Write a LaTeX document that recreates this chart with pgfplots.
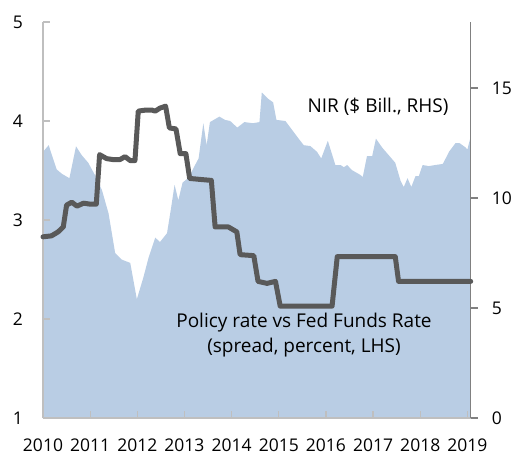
\documentclass[border=0pt]{standalone}
\usepackage{fontspec}
\setmainfont{Open Sans}
\usepackage{pgfplots}
\pgfplotsset{compat=1.18}
\definecolor{areablue}{RGB}{185,205,228}
\definecolor{linegray}{RGB}{89,89,89}
\definecolor{axlight}{RGB}{191,191,191}
\definecolor{axdark}{RGB}{128,128,128}
\begin{document}
\begin{tikzpicture}[x=1pt,y=1pt]
\useasboundingbox (0,0) rectangle (516,456);
\pgfplotsset{
  base/.style={
    scale only axis, width=427.7pt, height=396pt,
    at={(43pt,38pt)}, anchor=south west,
    xmin=2010, xmax=2019.07,
    /pgf/number format/assume math mode=true,
    tick label style={font=\fontsize{17.5}{20}\selectfont, text=black},
    major tick length=7pt,
    clip=false,
  }
}
\begin{axis}[base,
  axis y line*=right, axis x line*=bottom,
  ymin=0, ymax=18, ytick={0,5,10,15},
  xtick={2010,2011,2012,2013,2014,2015,2016,2017,2018,2019},
  xticklabels={2010,2011,2012,2013,2014,2015,2016,2017,2018,2019},
  x axis line style={axlight, line width=1.3pt, -},
  y axis line style={axdark, line width=1.3pt, -},
  x tick style={axlight, line width=1.3pt},
  y tick style={axdark, line width=1.3pt},
  xtick align=inside, ytick align=outside,
  xticklabel style={anchor=north, inner sep=0pt, yshift=-21pt},
  yticklabel style={anchor=west, inner sep=0pt, xshift=14pt},
  axis on top,
]
\addplot[fill=areablue, draw=none] coordinates {
(2010.00,12.1) (2010.12,12.4) (2010.29,11.3) (2010.40,11.1) (2010.56,10.9)
(2010.70,12.35) (2010.82,11.95) (2010.96,11.6) (2011.10,11.05) (2011.25,10.36)
(2011.39,9.3) (2011.53,7.5) (2011.67,7.2) (2011.85,7.05) (2011.99,5.4)
(2012.13,6.4) (2012.24,7.3) (2012.38,8.2) (2012.48,8.0) (2012.63,8.4)
(2012.72,9.6) (2012.79,10.6) (2012.87,9.9) (2012.96,10.7) (2013.10,10.95)
(2013.20,11.4) (2013.30,11.8) (2013.40,13.4) (2013.47,12.4) (2013.54,13.45)
(2013.74,13.7) (2013.86,13.55) (2013.97,13.5) (2014.12,13.2) (2014.27,13.45)
(2014.45,13.4) (2014.59,13.45) (2014.64,14.8) (2014.78,14.5) (2014.88,14.35)
(2014.95,13.55) (2015.14,13.5) (2015.28,13.1) (2015.42,12.7) (2015.53,12.4)
(2015.67,12.36) (2015.81,12.1) (2015.90,11.8) (2016.04,12.6) (2016.20,11.5)
(2016.31,11.5) (2016.38,11.4) (2016.45,11.5) (2016.55,11.27) (2016.73,11.05)
(2016.78,10.95) (2016.87,11.9) (2016.98,11.9) (2017.06,12.7) (2017.19,12.3)
(2017.33,11.95) (2017.47,11.6) (2017.58,10.8) (2017.65,10.5) (2017.73,10.9)
(2017.81,10.5) (2017.90,11.0) (2017.97,11.0) (2018.05,11.5) (2018.18,11.45)
(2018.32,11.5) (2018.48,11.55) (2018.61,12.1) (2018.75,12.5) (2018.83,12.5)
(2018.96,12.3) (2019.00,12.2) (2019.07,12.8)
} \closedcycle;
\end{axis}
\begin{axis}[base,
  axis y line*=left, axis x line=none,
  ymin=1, ymax=5, ytick={1,2,3,4,5},
  y axis line style={axlight, line width=1.3pt, -},
  y tick style={axlight, line width=1.3pt},
  ytick align=inside,
  yticklabel style={anchor=east, inner sep=0pt, xshift=-20pt},
]
\addplot[linegray, line width=5pt, line join=round, line cap=round] coordinates {
(2010.00,2.83) (2010.18,2.84) (2010.32,2.88) (2010.43,2.93) (2010.50,3.15)
(2010.61,3.18) (2010.72,3.14) (2010.86,3.17) (2011.00,3.16) (2011.13,3.16)
(2011.20,3.66) (2011.35,3.62) (2011.49,3.61) (2011.63,3.61) (2011.74,3.64)
(2011.85,3.60) (2011.95,3.60) (2012.02,4.10) (2012.17,4.11) (2012.31,4.11)
(2012.38,4.10) (2012.48,4.13) (2012.60,4.15) (2012.68,3.93) (2012.82,3.92)
(2012.91,3.67) (2013.03,3.67) (2013.11,3.42) (2013.33,3.41) (2013.57,3.40)
(2013.65,2.93) (2013.93,2.93) (2014.11,2.88) (2014.18,2.65) (2014.47,2.64)
(2014.56,2.38) (2014.75,2.36) (2014.93,2.38) (2015.03,2.13) (2016.13,2.13)
(2016.24,2.63) (2017.47,2.63) (2017.54,2.38) (2019.07,2.38)
};
\end{axis}
\node[font=\fontsize{19}{23}\selectfont] at (378,349) {NIR (\$ Bill., RHS)};
\node[font=\fontsize{19}{25}\selectfont, align=center, inner sep=0pt] at (304,121) {Policy rate vs Fed Funds Rate\\(spread, percent, LHS)};
\end{tikzpicture}
\end{document}
